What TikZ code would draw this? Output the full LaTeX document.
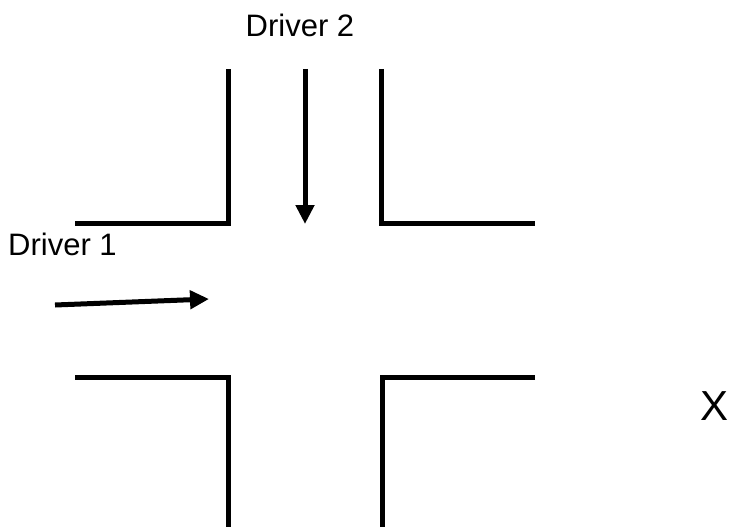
\documentclass[tikz,border=0pt]{standalone}
\usepackage{fontspec}
\setmainfont{Liberation Sans}
\usetikzlibrary{arrows.meta}
\begin{document}
\begin{tikzpicture}[x=1pt,y=-1pt,
  wall/.style={line width=5pt,line cap=butt,line join=miter},
  move/.style={line width=5pt,-{Triangle[length=19pt,width=18pt]}},
  lbl/.style={font=\fontsize{31}{36}\selectfont,inner sep=0pt}]
\useasboundingbox (0,0) rectangle (731,527);
\draw[wall] (75,223.5) -- (228.5,223.5) -- (228.5,69);
\draw[wall] (381.5,69) -- (381.5,223.5) -- (535,223.5);
\draw[wall] (75,377) -- (228.5,377) -- (228.5,527);
\draw[wall] (535,377) -- (382.5,377) -- (382.5,527);
\coordinate (a2s) at (305,69);
\coordinate (a2e) at (305,224);
\draw[move] (a2s) -- (a2e);
\coordinate (a1s) at (55,305);
\coordinate (a1e) at (209,299);
\draw[move] (a1s) -- (a1e);
\node[lbl] (d2) at (300,25.5) {Driver 2};
\node[lbl] (d1) at (62.5,244.5) {Driver 1};
\node[lbl,font=\fontsize{42}{48}\selectfont] (x) at (714,406) {X};
\end{tikzpicture}
\end{document}
